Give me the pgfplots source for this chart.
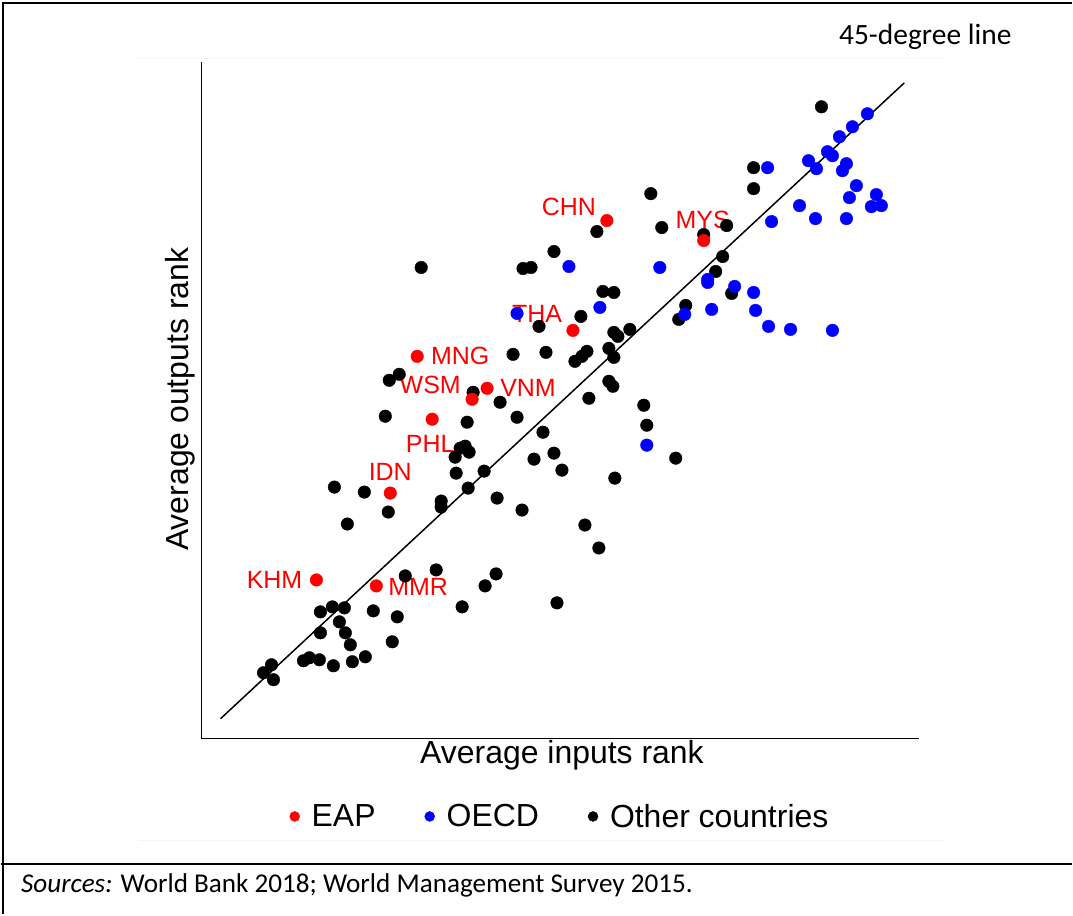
\documentclass[border=0pt]{standalone}
\usepackage{pgfplots}
\pgfplotsset{compat=1.18}
\usepackage{fontspec}
\setmainfont{Liberation Sans}
\newfontfamily\calibri{Carlito}
\begin{document}
\begin{tikzpicture}
\begin{axis}[
  x=1pt, y=1pt,
  xmin=201, xmax=920, ymin=176, ymax=854,
  axis x line=bottom, axis y line=left,
  axis line style={-, line width=1.2pt},
  xtick=\empty, ytick=\empty,
  clip=false,
  reverse legend,
  legend columns=3,
  legend style={at={(0.4993,-0.115)}, anchor=center, draw=none, fill=none,
    font=\fontsize{32}{36}\selectfont,
    /tikz/every even column/.append style={column sep=47pt}},
  legend image code/.code={\fill[#1] (0pt,0pt) circle (5pt); \path[draw=none,fill=none] (-5pt,0pt) -- (15pt,0pt);},
]
% Other countries
\addplot[only marks, mark=*, mark size=6.3pt, color=black] coordinates {
(822,809) (754,748) (754,727) (651,722) (597,684) (662,688) (704,681) (727,690)
(554,664) (523,647) (531,648) (421,648) (723,659) (716,644) (732,622) (603,624)
(614,623) (686,610) (679,596) (581,599) (539,589) (630,586) (614,583) (618,579)
(609,567) (587,564) (582,559) (575,554) (614,558) (513,561) (546,563) (609,534)
(613,529) (589,517) (644,510) (647,490) (676,457) (399,541) (389,535) (473,523)
(500,513) (385,499) (517,498) (467,493) (543,483) (460,467) (465,469) (469,463)
(455,458) (534,456) (554,462) (562,445) (615,437) (456,442) (484,444) (468,427)
(441,414) (441,408) (497,417) (522,405) (585,390) (599,367) (334,428) (364,423)
(388,403) (347,391) (405,339) (436,345) (496,341) (485,329) (462,308) (557,312)
(332,308) (344,307) (320,303) (373,304) (397,298) (339,293) (320,282) (345,282)
(350,270) (392,273) (303,254) (309,257) (319,255) (333,249) (352,253) (365,258)
(271,250) (263,242) (273,235)
};
\addlegendentry{Other countries}
% OECD
\addplot[only marks, mark=*, mark size=6.3pt, color=blue] coordinates {
(868,802) (853,789) (840,779) (828,764) (833,760) (809,755) (817,747) (768,748)
(847,752) (843,745) (857,730) (877,721) (850,718) (872,709) (882,710) (800,710)
(816,697) (847,697) (772,694) (569,649) (660,648) (600,608) (517,602) (708,636)
(708,633) (735,629) (754,623) (712,606) (756,605) (685,601) (769,589) (791,586)
(833,585) (647,470)
};
\addlegendentry{OECD}
% EAP
\addplot[only marks, mark=*, mark size=6.3pt, color=red] coordinates {
(607,695) (704,675) (573,585) (417,559) (487,527) (472,516) (432,496) (390,422)
(316,335) (376,329)
};
\addlegendentry{EAP}
% 45-degree line
\addplot[black, line width=1.5pt, forget plot] coordinates {(220,196) (905,833)};

% country labels
\begin{scope}[every node/.style={text=red, font=\fontsize{25}{28}\selectfont, inner sep=0pt}]
\node at (axis cs:569,708.5) {CHN};
\node at (axis cs:703,696) {MYS};
\node at (axis cs:537,601) {THA};
\node at (axis cs:460,559) {MNG};
\node at (axis cs:430,530) {WSM};
\node at (axis cs:528,527) {VNM};
\node at (axis cs:430,471) {PHL};
\node at (axis cs:390,443) {IDN};
\node at (axis cs:274,335) {KHM};
\node at (axis cs:418,328) {MMR};
\end{scope}

% axis labels
\node[font=\fontsize{32}{36}\selectfont] at (axis cs:562,159) {Average inputs rank};
\node[font=\fontsize{32}{36}\selectfont, rotate=90] at (axis cs:180,516) {Average outputs rank};

% annotations
\node[font=\calibri\fontsize{29.5}{33}\selectfont] at (axis cs:926,879) {45-degree line};
\node[font=\calibri\fontsize{27.2}{32}\selectfont, anchor=west, inner sep=0pt] at (axis cs:20,29) {\textit{Sources:} World Bank 2018; World Management Survey 2015.};

% frame
\draw[gray!8] (axis cs:137,858) -- (axis cs:945,858);
\draw[gray!8] (axis cs:137,74) -- (axis cs:945,74);
\draw[line width=2pt] (axis cs:2,0) -- (axis cs:2,913) -- (axis cs:1073,913);
\draw[line width=2pt] (axis cs:0,50) -- (axis cs:1073,50);
\path (axis cs:0,0) rectangle (axis cs:1073,916);
\end{axis}
\end{tikzpicture}
\end{document}
